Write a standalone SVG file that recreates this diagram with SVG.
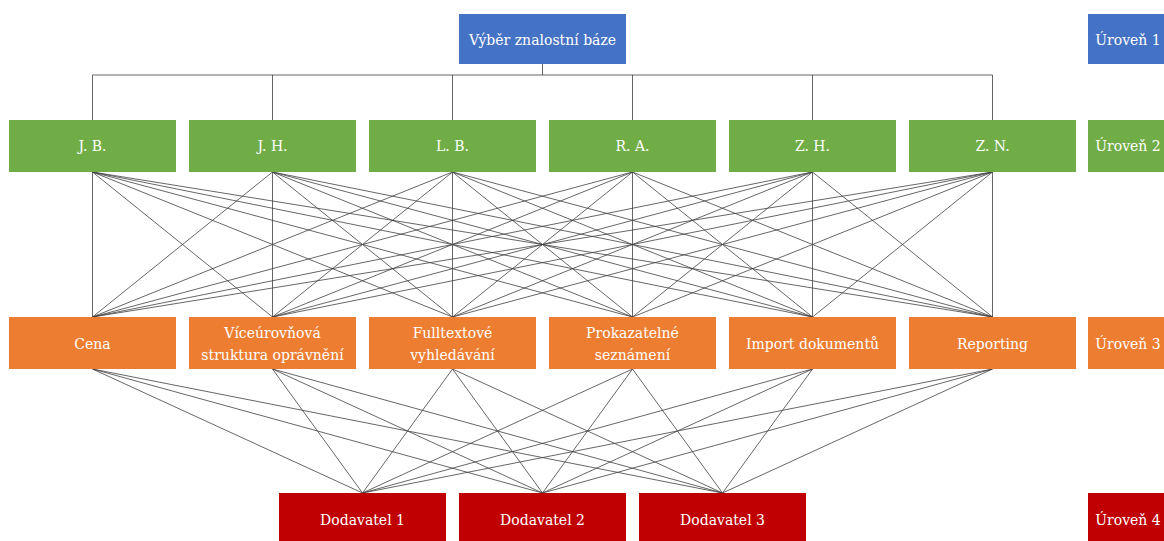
<svg xmlns="http://www.w3.org/2000/svg" width="1164" height="541" viewBox="0 0 1164 541">
<style>
.c{stroke:#404040;stroke-width:0.8;fill:none}
.b{fill:#4472C4}.g{fill:#70AD47}.o{fill:#ED7D31}.r{fill:#C00000}
.t{font-family:"DejaVu Serif","Liberation Serif",serif;font-size:14px;fill:#ffffff;text-anchor:middle}
</style>
<rect width="1164" height="541" fill="#ffffff"/>
<g id="connectors" class="c">
<path d="M542.5 64V75M92.5 75H992.5M92.5 75V120M272.5 75V120M452.5 75V120M632.5 75V120M812.5 75V120M992.5 75V120"/>
<path d="M92.5 172L92.5 317M92.5 172L272.5 317M92.5 172L452.5 317M92.5 172L632.5 317M92.5 172L812.5 317M92.5 172L992.5 317
M272.5 172L92.5 317M272.5 172L272.5 317M272.5 172L452.5 317M272.5 172L632.5 317M272.5 172L812.5 317M272.5 172L992.5 317
M452.5 172L92.5 317M452.5 172L272.5 317M452.5 172L452.5 317M452.5 172L632.5 317M452.5 172L812.5 317M452.5 172L992.5 317
M632.5 172L92.5 317M632.5 172L272.5 317M632.5 172L452.5 317M632.5 172L632.5 317M632.5 172L812.5 317M632.5 172L992.5 317
M812.5 172L92.5 317M812.5 172L272.5 317M812.5 172L452.5 317M812.5 172L632.5 317M812.5 172L812.5 317M812.5 172L992.5 317
M992.5 172L92.5 317M992.5 172L272.5 317M992.5 172L452.5 317M992.5 172L632.5 317M992.5 172L812.5 317M992.5 172L992.5 317"/>
<path d="M92.5 369L362.5 493M92.5 369L542.5 493M92.5 369L722.5 493
M272.5 369L362.5 493M272.5 369L542.5 493M272.5 369L722.5 493
M452.5 369L362.5 493M452.5 369L542.5 493M452.5 369L722.5 493
M632.5 369L362.5 493M632.5 369L542.5 493M632.5 369L722.5 493
M812.5 369L362.5 493M812.5 369L542.5 493M812.5 369L722.5 493
M992.5 369L362.5 493M992.5 369L542.5 493M992.5 369L722.5 493"/>
</g>
<g id="root"><rect class="b" x="459" y="14" width="167" height="50"/><text class="t" x="542.5" y="44.5">Výběr znalostní báze</text></g>
<g id="jb"><rect class="g" x="9" y="120" width="167" height="52"/><text class="t" x="92.5" y="151">J. B.</text></g>
<g id="jh"><rect class="g" x="189" y="120" width="167" height="52"/><text class="t" x="272.5" y="151">J. H.</text></g>
<g id="lb"><rect class="g" x="369" y="120" width="167" height="52"/><text class="t" x="452.5" y="151">L. B.</text></g>
<g id="ra"><rect class="g" x="549" y="120" width="167" height="52"/><text class="t" x="632.5" y="151">R. A.</text></g>
<g id="zh"><rect class="g" x="729" y="120" width="167" height="52"/><text class="t" x="812.5" y="151">Z. H.</text></g>
<g id="zn"><rect class="g" x="909" y="120" width="167" height="52"/><text class="t" x="992.5" y="151">Z. N.</text></g>
<g id="cena"><rect class="o" x="9" y="317" width="167" height="52"/><text class="t" x="92.5" y="348.5">Cena</text></g>
<g id="vice"><rect class="o" x="189" y="317" width="167" height="52"/><text class="t" x="272.5" y="338">Víceúrovňová</text><text class="t" x="272.5" y="359.5">struktura oprávnění</text></g>
<g id="full"><rect class="o" x="369" y="317" width="167" height="52"/><text class="t" x="452.5" y="338">Fulltextové</text><text class="t" x="452.5" y="359.5">vyhledávání</text></g>
<g id="prok"><rect class="o" x="549" y="317" width="167" height="52"/><text class="t" x="632.5" y="338">Prokazatelné</text><text class="t" x="632.5" y="359.5">seznámení</text></g>
<g id="import"><rect class="o" x="729" y="317" width="167" height="52"/><text class="t" x="812.5" y="348.5">Import dokumentů</text></g>
<g id="rep"><rect class="o" x="909" y="317" width="167" height="52"/><text class="t" x="992.5" y="348.5">Reporting</text></g>
<g id="d1"><rect class="r" x="279" y="493" width="167" height="52"/><text class="t" x="362.5" y="524.5">Dodavatel 1</text></g>
<g id="d2"><rect class="r" x="459" y="493" width="167" height="52"/><text class="t" x="542.5" y="524.5">Dodavatel 2</text></g>
<g id="d3"><rect class="r" x="639" y="493" width="167" height="52"/><text class="t" x="722.5" y="524.5">Dodavatel 3</text></g>
<g id="u1"><rect class="b" x="1088" y="14" width="80" height="50"/><text class="t" x="1128" y="44.5">Úroveň 1</text></g>
<g id="u2"><rect class="g" x="1088" y="120" width="80" height="52"/><text class="t" x="1128" y="151">Úroveň 2</text></g>
<g id="u3"><rect class="o" x="1088" y="317" width="80" height="52"/><text class="t" x="1128" y="348.5">Úroveň 3</text></g>
<g id="u4"><rect class="r" x="1088" y="493" width="80" height="52"/><text class="t" x="1128" y="524.5">Úroveň 4</text></g>
</svg>
